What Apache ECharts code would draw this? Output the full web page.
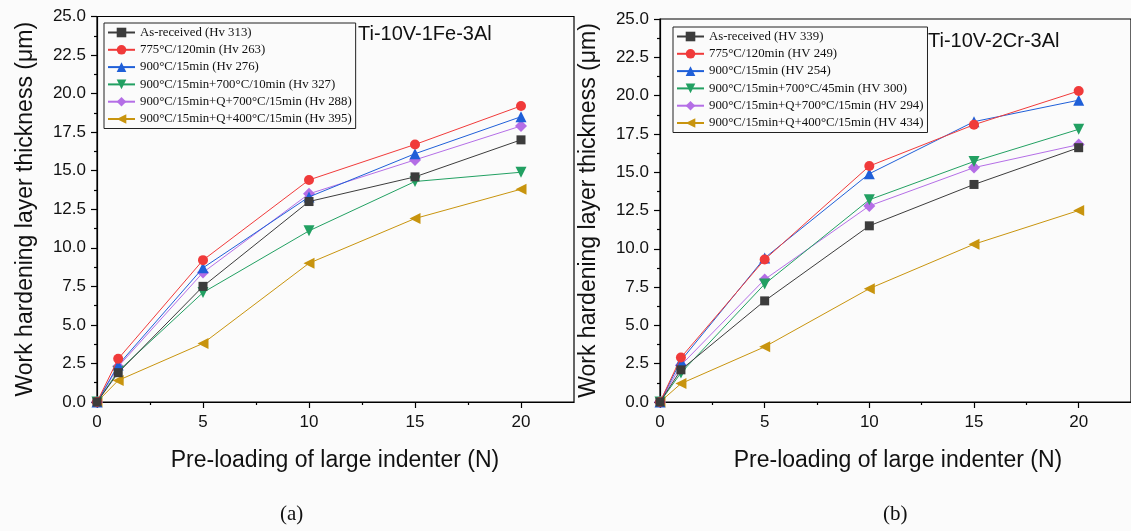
<!DOCTYPE html>
<html>
<head>
<meta charset="utf-8">
<script src="https://cdn.jsdelivr.net/npm/echarts@6/dist/echarts.min.js"></script>
<style>
html,body{margin:0;padding:0;background:#fbfbfb;}
#chart{width:1131px;height:531px;}
</style>
</head>
<body>
<div id="chart"></div>
<script>
// ---------- data ----------
const xValues = [0, 1, 5, 10, 15, 20];

const namesA = [
  'As-received (Hv 313)',
  '775°C/120min (Hv 263)',
  '900°C/15min (Hv 276)',
  '900°C/15min+700°C/10min (Hv 327)',
  '900°C/15min+Q+700°C/15min (Hv 288)',
  '900°C/15min+Q+400°C/15min (Hv 395)'
];
const namesB = [
  'As-received (HV 339)',
  '775°C/120min (HV 249)',
  '900°C/15min (HV 254)',
  '900°C/15min+700°C/45min (HV 300)',
  '900°C/15min+Q+700°C/15min (HV 294)',
  '900°C/15min+Q+400°C/15min (HV 434)'
];

// Ti-10V-1Fe-3Al
const a_asReceived = [0, 1.9, 7.5, 13.0, 14.6, 17.0];
const a_775        = [0, 2.8, 9.2, 14.4, 16.7, 19.2];
const a_900        = [0, 2.4, 8.7, 13.3, 16.1, 18.5];
const a_900_700    = [0, 2.0, 7.1, 11.1, 14.3, 14.9];
const a_900Q700    = [0, 2.3, 8.4, 13.5, 15.7, 17.9];
const a_900Q400    = [0, 1.4, 3.8, 9.0, 11.9, 13.8];

// Ti-10V-2Cr-3Al
const b_asReceived = [0, 2.1, 6.6, 11.5, 14.2, 16.6];
const b_775        = [0, 2.9, 9.3, 15.4, 18.1, 20.3];
const b_900        = [0, 2.7, 9.4, 14.9, 18.3, 19.7];
const b_900_700    = [0, 1.9, 7.7, 13.2, 15.7, 17.8];
const b_900Q700    = [0, 2.4, 8.0, 12.8, 15.3, 16.8];
const b_900Q400    = [0, 1.2, 3.6, 7.4, 10.3, 12.5];

const xMajorTicks = [0, 5, 10, 15, 20];
const xMinorTicks = [2.5, 7.5, 12.5, 17.5];
const yMajorTicks = [0, 2.5, 5, 7.5, 10, 12.5, 15, 17.5, 20, 22.5, 25];
const yMinorTicks = [1.25, 3.75, 6.25, 8.75, 11.25, 13.75, 16.25, 18.75, 21.25, 23.75];

const titleA = 'Ti-10V-1Fe-3Al';
const titleB = 'Ti-10V-2Cr-3Al';
const xName = 'Pre-loading of large indenter (N)';
const yName = 'Work hardening layer thickness (\u03bcm)';

// ---------- styles ----------
const colors = ['#3c3c3c', '#f03a3a', '#1f5fd8', '#22a062', '#b46ee6', '#c8940e'];
const symbols = [
  'rect', 'circle', 'triangle',
  'path://M0,0 L10,0 L5,10 Z',
  'diamond',
  'path://M10,0 L10,10 L0,5 Z'
];
const symbolSizes = [9, 10, 11, 11, 12, 11];

const dataA = [a_asReceived, a_775, a_900, a_900_700, a_900Q700, a_900Q400];
const dataB = [b_asReceived, b_775, b_900, b_900_700, b_900Q700, b_900Q400];

const grids = [
  {left: 97, top: 16.5, width: 477, height: 385.5, show: true, borderColor: '#000', borderWidth: 1.2, backgroundColor: 'transparent'},
  {left: 660, top: 19, width: 477, height: 383, show: true, borderColor: '#000', borderWidth: 1.2, backgroundColor: 'transparent'}
];

const tickFont = {fontFamily: 'Liberation Sans, Arial, sans-serif', fontSize: 17, color: '#111'};
const xNameFont = {fontFamily: 'Liberation Sans, Arial, sans-serif', fontSize: 23, fontWeight: 'normal', color: '#111'};
const yNameFont = {fontFamily: 'Liberation Sans, Arial, sans-serif', fontSize: 23, color: '#111'};

function xAxesFor(g) {
  return [
    {
      type: 'value', gridIndex: g, min: 0, max: 22.5, interval: 2.5,
      axisLine: {show: true, lineStyle: {color: '#000', width: 1.2}},
      axisTick: {show: true, length: 6, inside: false, customValues: xMajorTicks, lineStyle: {color: '#000', width: 1.2}},
      axisLabel: Object.assign({margin: 12, customValues: xMajorTicks, formatter: v => String(v)}, tickFont),
      splitLine: {show: false}
    },
    {
      type: 'value', gridIndex: g, min: 0, max: 22.5, interval: 2.5, position: 'bottom',
      axisLine: {show: false},
      axisTick: {show: true, length: 3, customValues: xMinorTicks, lineStyle: {color: '#000', width: 1.2}},
      axisLabel: {show: false},
      splitLine: {show: false}
    }
  ];
}
function yAxesFor(g) {
  return [
    {
      type: 'value', gridIndex: g, min: 0, max: 25, interval: 2.5,
      name: yName, nameLocation: 'middle', nameGap: 60, nameRotate: 90, nameTextStyle: yNameFont,
      axisLine: {show: true, lineStyle: {color: '#000', width: 1.2}},
      axisTick: {show: true, length: 6, customValues: yMajorTicks, lineStyle: {color: '#000', width: 1.2}},
      axisLabel: Object.assign({margin: 11, customValues: yMajorTicks, formatter: v => v.toFixed(1)}, tickFont),
      splitLine: {show: false}
    },
    {
      type: 'value', gridIndex: g, min: 0, max: 25, interval: 2.5, position: 'left',
      axisLine: {show: false},
      axisTick: {show: true, length: 3, customValues: yMinorTicks, lineStyle: {color: '#000', width: 1.2}},
      axisLabel: {show: false},
      splitLine: {show: false}
    }
  ];
}

const series = [];
function addSeries(names, data, g) {
  names.forEach((n, i) => {
    series.push({
      name: n, type: 'line', xAxisIndex: g * 2, yAxisIndex: g * 2,
      data: xValues.map((x, k) => [x, data[i][k]]),
      symbol: symbols[i], symbolSize: symbolSizes[i],
      lineStyle: {color: colors[i], width: 1},
      itemStyle: {color: colors[i]},
      z: 10 - i,
      animation: false
    });
  });
}
addSeries(namesA, dataA, 0);
addSeries(namesB, dataB, 1);

const legendBase = {
  orient: 'vertical',
  itemWidth: 27, itemHeight: 12, itemGap: 4.3,
  padding: [3, 4, 3, 3],
  borderColor: '#222', borderWidth: 1,
  textStyle: {fontFamily: 'Liberation Serif, Times New Roman, serif', fontSize: 12.8, color: '#111'},
  backgroundColor: 'transparent'
};

const titleFont = {fontFamily: 'Liberation Sans, Arial, sans-serif', fontSize: 20, fontWeight: 'normal', color: '#111'};
const panelFont = {fontFamily: 'Liberation Serif, Times New Roman, serif', fontSize: 21, fontWeight: 'normal', color: '#111'};

const option = {
  backgroundColor: '#fbfbfb',
  animation: false,
  grid: grids,
  xAxis: [...xAxesFor(0), ...xAxesFor(1)],
  yAxis: [...yAxesFor(0), ...yAxesFor(1)],
  legend: [
    Object.assign({}, legendBase, {data: namesA, left: 104, top: 23}),
    Object.assign({}, legendBase, {data: namesB, left: 673, top: 27})
  ],
  title: [
    {text: titleA, left: 358, top: 24, padding: 0, textStyle: titleFont},
    {text: titleB, left: 928, top: 31, padding: 0, textStyle: titleFont},
    {text: xName, left: 335, top: 449, padding: 0, textAlign: 'center', textStyle: xNameFont},
    {text: xName, left: 898, top: 449, padding: 0, textAlign: 'center', textStyle: xNameFont},
    {text: '(a)', left: 280, top: 504, padding: 0, textStyle: panelFont},
    {text: '(b)', left: 883, top: 504, padding: 0, textStyle: panelFont}
  ],
  series: series
};

const chart = echarts.init(document.getElementById('chart'), null, {renderer: 'canvas'});
chart.setOption(option);
</script>
</body>
</html>
